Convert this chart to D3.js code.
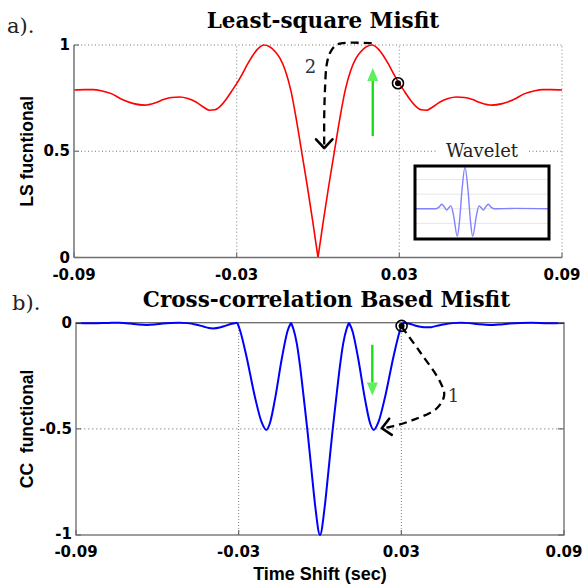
<!DOCTYPE html>
<html>
<head>
<meta charset="utf-8">
<script src="https://cdn.jsdelivr.net/npm/d3@7"></script>
<style>
body { margin: 0; background: #fff; }
svg { display: block; }
text { white-space: pre; }
</style>
</head>
<body>
<div id="chart"></div>
<script>
// ---- data ----
var xTicks = [-0.09, -0.03, 0.03, 0.09];
var lsTicks = [0, 0.5, 1];
var ccTicks = [-1, -0.5, 0];

// a) least-square misfit (red)
var lsTime = [-0.090, -0.086, -0.083, -0.080, -0.076, -0.072, -0.068, -0.064, -0.060, -0.057, -0.054, -0.051,
    -0.048, -0.045, -0.042, -0.040, -0.038, -0.036, -0.034, -0.032, -0.030, -0.028, -0.026, -0.024, -0.022,
    -0.020, -0.018, -0.016, -0.014, -0.012, -0.010, -0.008, -0.006, -0.004, -0.002, 0,
    0.002, 0.004, 0.006, 0.008, 0.010, 0.012, 0.014, 0.016, 0.018, 0.020, 0.022, 0.024, 0.026, 0.028, 0.030,
    0.032, 0.034, 0.036, 0.038, 0.040, 0.042, 0.045, 0.048, 0.051, 0.054, 0.057, 0.060, 0.064, 0.068, 0.072,
    0.076, 0.080, 0.083, 0.086, 0.090];
var lsValue = [0.788, 0.790, 0.790, 0.785, 0.770, 0.742, 0.724, 0.717, 0.728, 0.743, 0.753, 0.755,
    0.748, 0.732, 0.706, 0.693, 0.695, 0.712, 0.742, 0.780, 0.818, 0.862, 0.910, 0.952, 0.984,
    1.000, 0.993, 0.972, 0.937, 0.878, 0.785, 0.650, 0.495, 0.340, 0.175, 0.000,
    0.175, 0.340, 0.495, 0.650, 0.785, 0.878, 0.937, 0.972, 0.993, 1.000, 0.984, 0.952, 0.910, 0.862, 0.818,
    0.780, 0.742, 0.712, 0.695, 0.693, 0.706, 0.732, 0.748, 0.755, 0.753, 0.743, 0.728, 0.717, 0.724, 0.742,
    0.770, 0.785, 0.790, 0.790, 0.788];
var lsBreaks = [0];

// b) cross-correlation misfit (blue)
var ccTime = [-0.090, -0.084, -0.078, -0.074, -0.070, -0.067, -0.064, -0.061, -0.058, -0.055, -0.052, -0.049,
    -0.046, -0.043, -0.041, -0.0394, -0.037, -0.035, -0.033, -0.0305, -0.0294, -0.0271, -0.0240, -0.0215,
    -0.0198, -0.0184, -0.0166, -0.0141, -0.0120, -0.0107, -0.0098, -0.0086, -0.0074, -0.0062, -0.0047,
    -0.0031, -0.0018, 0, 0.0018, 0.0031, 0.0047, 0.0062, 0.0074, 0.0086, 0.0098, 0.0107, 0.0120, 0.0141,
    0.0166, 0.0184, 0.0198, 0.0215, 0.0240, 0.0271, 0.0294, 0.0305, 0.033, 0.035, 0.037, 0.0394, 0.041,
    0.043, 0.046, 0.049, 0.052, 0.055, 0.058, 0.061, 0.064, 0.067, 0.070, 0.074, 0.078, 0.084, 0.090];
var ccValue = [-0.002, -0.003, -0.001, 0, -0.004, -0.009, -0.011, -0.009, -0.004, -0.001, 0, -0.002,
    -0.008, -0.018, -0.025, -0.027, -0.023, -0.015, -0.006, 0, -0.04, -0.16, -0.35, -0.47,
    -0.505, -0.47, -0.36, -0.17, -0.04, 0, -0.03, -0.095, -0.20, -0.33, -0.50,
    -0.70, -0.86, -1.0, -0.86, -0.70, -0.50, -0.33, -0.20, -0.095, -0.03, 0, -0.04, -0.17,
    -0.36, -0.47, -0.505, -0.47, -0.35, -0.16, -0.04, 0, -0.005, -0.013, -0.019, -0.022, -0.021,
    -0.015, -0.007, -0.002, 0, -0.002, -0.006, -0.010, -0.011, -0.008, -0.004, -0.001, 0, -0.003, -0.002];
var ccBreaks = [-0.0305, -0.0107, 0.0107, 0.0305];

// inset wavelet (sample offsets from the main peak)
var waveTime = [-50, -29, -26, -23.3, -20.5, -18.3, -16, -14, -11.5, -7.7, -5.5, -3, 0, 3, 5.5, 7.7,
    11.5, 14, 16, 18.3, 20.5, 23.3, 26, 29, 50, 84];
var waveAmp = [0, 0, 0.04, 0.11, 0.04, -0.03, 0.03, 0.07, -0.15, -0.66, -0.3, 0.45, 1.0, 0.45, -0.3, -0.66,
    -0.15, 0.07, 0.03, -0.03, 0.04, 0.11, 0.04, 0, 0.01, 0];
var waveGrid = [-0.35, 0, 0.35, 0.7];

// annotations
var markLs = [0.0295, 0.82];
var markCc = [0.0301, -0.015];
var arrowLsTime = [0.0198, 0.0093, 0.0066, 0.0044, 0.0032, 0.0026, 0.0023, 0.0023];
var arrowLsValue = [1.009, 1.009, 0.999, 0.962, 0.907, 0.798, 0.672, 0.515];
var arrowCcTime = [0.0301, 0.0369, 0.0443, 0.0458, 0.0431, 0.0344, 0.0262, 0.0228];
var arrowCcValue = [-0.019, -0.138, -0.278, -0.341, -0.403, -0.458, -0.49, -0.497];
var greenLsTime = 0.0202, greenLsValue = [0.572, 0.892];
var greenCcTime = 0.0193, greenCcValue = [-0.104, -0.343];

// ---- drawing ----
var W = 585, H = 584;
var svg = d3.select("#chart").append("svg").attr("width", W).attr("height", H);
svg.append("rect").attr("width", W).attr("height", H).attr("fill", "#fff");

var sans = "'DejaVu Sans', sans-serif";
var arial = "'Liberation Sans', Arial, sans-serif";
var serif = "'DejaVu Serif', serif";

function segments(times, values, breaks) {
    var pts = times.map(function(t, i) { return [t, values[i]]; });
    var out = [], cur = [];
    pts.forEach(function(p) {
        cur.push(p);
        if (breaks.indexOf(p[0]) >= 0 && cur.length > 1) {
            out.push(cur);
            cur = [p];
        }
    });
    if (cur.length > 1) out.push(cur);
    return out;
}

function drawCurve(g, x, y, times, values, breaks, color, width) {
    var line = d3.line()
        .x(function(d) { return x(d[0]); })
        .y(function(d) { return y(d[1]); })
        .curve(d3.curveMonotoneX);
    g.selectAll(null).data(segments(times, values, breaks)).enter()
        .append("path")
        .attr("d", line)
        .attr("fill", "none")
        .attr("stroke", color)
        .attr("stroke-width", width)
        .attr("stroke-linejoin", "round");
}

function dashedArrow(g, x, y, times, values) {
    var pts = times.map(function(t, i) { return [x(t), y(values[i])]; });
    g.append("path")
        .attr("d", d3.line().curve(d3.curveCatmullRom.alpha(0.5))(pts))
        .attr("fill", "none")
        .attr("stroke", "#000")
        .attr("stroke-width", 2.3)
        .attr("stroke-dasharray", "8,5");
    var tip = pts[pts.length - 1], prev = pts[pts.length - 2];
    var a = Math.atan2(tip[1] - prev[1], tip[0] - prev[0]);
    var len = 12, spread = 0.75;
    var p1 = [tip[0] - len * Math.cos(a - spread), tip[1] - len * Math.sin(a - spread)];
    var p2 = [tip[0] - len * Math.cos(a + spread), tip[1] - len * Math.sin(a + spread)];
    g.append("path")
        .attr("d", "M" + p1 + "L" + tip + "L" + p2)
        .attr("fill", "none")
        .attr("stroke", "#000")
        .attr("stroke-width", 2.6)
        .attr("stroke-linecap", "round")
        .attr("stroke-linejoin", "round");
}

function greenArrow(g, x, y, t, vals) {
    var x0 = x(t), y0 = y(vals[0]), y1 = y(vals[1]);
    var dir = y1 < y0 ? 1 : -1;
    var headLen = 13, headW = 5.5;
    g.append("line")
        .attr("x1", x0).attr("x2", x0)
        .attr("y1", y0).attr("y2", y1 + dir * headLen)
        .attr("stroke", "#14e014").attr("stroke-width", 2.4);
    g.append("path")
        .attr("d", "M" + (x0 - headW) + "," + (y1 + dir * headLen) + "L" + x0 + "," + y1 +
            "L" + (x0 + headW) + "," + (y1 + dir * headLen) + "Z")
        .attr("fill", "#5cf05c");
}

function marker(g, x, y, p) {
    g.append("circle").attr("cx", x(p[0])).attr("cy", y(p[1])).attr("r", 5.5)
        .attr("fill", "none").attr("stroke", "#000").attr("stroke-width", 1.6);
    g.append("circle").attr("cx", x(p[0])).attr("cy", y(p[1])).attr("r", 3)
        .attr("fill", "#000");
}

// ===== panel a =====
var xa = d3.scaleLinear().domain([-0.09, 0.09]).range([74, 562]);
var ya = d3.scaleLinear().domain([0, 1]).range([257.5, 45]);
var ga = svg.append("g");

// dotted grid and open box sides
ga.selectAll(null).data([-0.03, 0.03]).enter().append("line")
    .attr("x1", function(d) { return xa(d); }).attr("x2", function(d) { return xa(d); })
    .attr("y1", ya(0)).attr("y2", ya(1))
    .attr("stroke", "#bdbdbd").attr("stroke-width", 1.3).attr("stroke-dasharray", "1.5,2");
ga.append("line").attr("x1", xa(0.09)).attr("x2", xa(0.09)).attr("y1", ya(0)).attr("y2", ya(1))
    .attr("stroke", "#bdbdbd").attr("stroke-width", 1.3).attr("stroke-dasharray", "1.5,2");
ga.selectAll(null).data([0.5, 1]).enter().append("line")
    .attr("x1", xa(-0.09)).attr("x2", xa(0.09))
    .attr("y1", function(d) { return ya(d); }).attr("y2", function(d) { return ya(d); })
    .attr("stroke", "#777").attr("stroke-width", 1).attr("stroke-dasharray", "1,2.5");

drawCurve(ga, xa, ya, lsTime, lsValue, lsBreaks, "#ff0000", 1.6);

// solid left & bottom axes with inward ticks
ga.append("line").attr("x1", xa(-0.09)).attr("x2", xa(-0.09)).attr("y1", ya(0)).attr("y2", ya(1))
    .attr("stroke", "#707070").attr("stroke-width", 1.5);
ga.append("line").attr("x1", xa(-0.09)).attr("x2", xa(0.09)).attr("y1", ya(0)).attr("y2", ya(0))
    .attr("stroke", "#707070").attr("stroke-width", 1.5);
ga.selectAll(null).data(xTicks).enter().append("line")
    .attr("x1", function(d) { return xa(d); }).attr("x2", function(d) { return xa(d); })
    .attr("y1", ya(0)).attr("y2", ya(0) - 5)
    .attr("stroke", "#707070").attr("stroke-width", 1.2);
ga.selectAll(null).data(lsTicks).enter().append("line")
    .attr("x1", xa(-0.09)).attr("x2", xa(-0.09) + 5)
    .attr("y1", function(d) { return ya(d); }).attr("y2", function(d) { return ya(d); })
    .attr("stroke", "#707070").attr("stroke-width", 1.2);

ga.selectAll(null).data(xTicks).enter().append("text")
    .attr("x", function(d) { return xa(d); }).attr("y", 280)
    .attr("text-anchor", "middle").attr("font-family", sans).attr("font-weight", "bold")
    .attr("font-size", 15).text(function(d) { return String(d); });
ga.selectAll(null).data(lsTicks).enter().append("text")
    .attr("x", xa(-0.09) - 4).attr("y", function(d) { return ya(d) + 5; })
    .attr("text-anchor", "end").attr("font-family", sans).attr("font-weight", "bold")
    .attr("font-size", 15).text(function(d) { return String(d); });

ga.append("text").attr("transform", "translate(33," + ya(0.5) + ") rotate(-90)")
    .attr("text-anchor", "middle").attr("font-family", arial).attr("font-weight", "bold")
    .attr("font-size", 17.5).text("LS fucntional");
ga.append("text").attr("x", 323).attr("y", 28)
    .attr("text-anchor", "middle").attr("font-family", serif).attr("font-weight", "bold")
    .attr("font-size", 21.5).text("Least-square Misfit");
ga.append("text").attr("x", 7).attr("y", 33)
    .attr("font-family", serif).attr("font-size", 21).attr("fill", "#222").text("a).");

// annotations
greenArrow(ga, xa, ya, greenLsTime, greenLsValue);
dashedArrow(ga, xa, ya, arrowLsTime, arrowLsValue);
ga.append("text").attr("x", 310.5).attr("y", 73).attr("text-anchor", "middle")
    .attr("font-family", serif).attr("font-size", 18).attr("fill", "#333").text("2");
marker(ga, xa, ya, markLs);

// inset wavelet
var xw = d3.scaleLinear().domain([-50, 84]).range([415, 549]);
var yw = d3.scaleLinear().domain([-0.7, 1.05]).range([238, 165]);
var gw = ga.append("g");
gw.append("rect").attr("x", 438).attr("y", 141).attr("width", 89).attr("height", 19).attr("fill", "#fff");
gw.append("text").attr("x", 482).attr("y", 157).attr("text-anchor", "middle")
    .attr("font-family", serif).attr("font-size", 18).attr("fill", "#222").text("Wavelet");
gw.append("rect").attr("x", 415).attr("y", 166).attr("width", 134).attr("height", 73)
    .attr("fill", "#fff");
gw.selectAll(null).data(waveGrid).enter().append("line")
    .attr("x1", 416).attr("x2", 548)
    .attr("y1", function(d) { return yw(d); }).attr("y2", function(d) { return yw(d); })
    .attr("stroke", "#e6e6e6").attr("stroke-width", 1);
gw.append("path")
    .attr("d", d3.line()
        .x(function(d, i) { return xw(waveTime[i]); })
        .y(function(d) { return yw(d); })
        .curve(d3.curveMonotoneX)(waveAmp))
    .attr("fill", "none").attr("stroke", "#8282ff").attr("stroke-width", 1.4);
gw.append("rect").attr("x", 415).attr("y", 166).attr("width", 134).attr("height", 73)
    .attr("fill", "none").attr("stroke", "#000").attr("stroke-width", 3);

// ===== panel b =====
var xb = d3.scaleLinear().domain([-0.09, 0.09]).range([76, 564]);
var yb = d3.scaleLinear().domain([-1, 0]).range([535, 322.7]);
var gb = svg.append("g");

gb.selectAll(null).data([-0.03, 0.03]).enter().append("line")
    .attr("x1", function(d) { return xb(d); }).attr("x2", function(d) { return xb(d); })
    .attr("y1", yb(-1)).attr("y2", yb(0))
    .attr("stroke", "#888").attr("stroke-width", 1).attr("stroke-dasharray", "1,2");
gb.append("line").attr("x1", xb(-0.09)).attr("x2", xb(0.09)).attr("y1", yb(-0.5)).attr("y2", yb(-0.5))
    .attr("stroke", "#aaa").attr("stroke-width", 1.2).attr("stroke-dasharray", "1.5,2.5");

gb.append("rect").attr("x", xb(-0.09)).attr("y", yb(0))
    .attr("width", xb(0.09) - xb(-0.09)).attr("height", yb(-1) - yb(0))
    .attr("fill", "none").attr("stroke", "#6a6a6a").attr("stroke-width", 1.3);

drawCurve(gb, xb, yb, ccTime, ccValue, ccBreaks, "#0000ff", 2);

gb.selectAll(null).data(xTicks).enter().append("line")
    .attr("x1", function(d) { return xb(d); }).attr("x2", function(d) { return xb(d); })
    .attr("y1", yb(-1)).attr("y2", yb(-1) - 5)
    .attr("stroke", "#6a6a6a").attr("stroke-width", 1.2);
gb.selectAll(null).data(ccTicks).enter().append("line")
    .attr("x1", xb(0.09) - 6).attr("x2", xb(0.09))
    .attr("y1", function(d) { return yb(d); }).attr("y2", function(d) { return yb(d); })
    .attr("stroke", "#6a6a6a").attr("stroke-width", 1.2);
gb.selectAll(null).data(ccTicks).enter().append("line")
    .attr("x1", xb(-0.09)).attr("x2", xb(-0.09) + 5)
    .attr("y1", function(d) { return yb(d); }).attr("y2", function(d) { return yb(d); })
    .attr("stroke", "#6a6a6a").attr("stroke-width", 1.2);

gb.selectAll(null).data(xTicks).enter().append("text")
    .attr("x", function(d) { return xb(d); }).attr("y", 557)
    .attr("text-anchor", "middle").attr("font-family", sans).attr("font-weight", "bold")
    .attr("font-size", 15).text(function(d) { return String(d); });
gb.selectAll(null).data(ccTicks).enter().append("text")
    .attr("x", xb(-0.09) - 4).attr("y", function(d) { return yb(d) + (d === -1 ? 4 : 5); })
    .attr("text-anchor", "end").attr("font-family", sans).attr("font-weight", "bold")
    .attr("font-size", 15).text(function(d) { return String(d); });

gb.append("text").attr("transform", "translate(33," + yb(-0.5) + ") rotate(-90)")
    .attr("text-anchor", "middle").attr("font-family", arial).attr("font-weight", "bold")
    .attr("font-size", 17.5).text("CC  functional");
gb.append("text").attr("x", 320).attr("y", 580)
    .attr("text-anchor", "middle").attr("font-family", arial).attr("font-weight", "bold")
    .attr("font-size", 18).text("Time Shift (sec)");
gb.append("text").attr("x", 326.5).attr("y", 307)
    .attr("text-anchor", "middle").attr("font-family", serif).attr("font-weight", "bold")
    .attr("font-size", 21.5).text("Cross-correlation Based Misfit");
gb.append("text").attr("x", 12).attr("y", 310)
    .attr("font-family", serif).attr("font-size", 21).attr("fill", "#222").text("b).");

greenArrow(gb, xb, yb, greenCcTime, greenCcValue);
dashedArrow(gb, xb, yb, arrowCcTime, arrowCcValue);
gb.append("text").attr("x", 453.5).attr("y", 401.5).attr("text-anchor", "middle")
    .attr("font-family", serif).attr("font-size", 18).attr("fill", "#333").text("1");
marker(gb, xb, yb, markCc);
</script>
</body>
</html>
